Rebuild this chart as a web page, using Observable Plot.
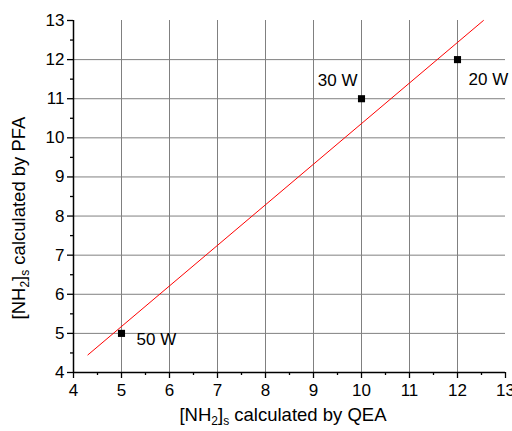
<!DOCTYPE html>
<html>
<head>
<meta charset="utf-8">
<script src="https://cdn.jsdelivr.net/npm/d3@7"></script>
<script src="https://cdn.jsdelivr.net/npm/@observablehq/plot@0.6"></script>
<style>
  html, body { margin: 0; padding: 0; background: #fff; }
  #chart svg { display: block; }
</style>
</head>
<body>
<div id="chart"></div>
<script>
// Data
const qea = [12, 10, 5];          // [NH2]s by QEA (x)
const pfa = [12, 11, 5];          // [NH2]s by PFA (y)
const powers = ["20 W", "30 W", "50 W"];
// Fitted line end points
const fitX = [4.3, 12.54];
const fitY = [4.45, 13];
const majorTicks = [4, 5, 6, 7, 8, 9, 10, 11, 12, 13];
const minorTicks = [4.5, 5.5, 6.5, 7.5, 8.5, 9.5, 10.5, 11.5, 12.5];
const gridTicks = [5, 6, 7, 8, 9, 10, 11, 12];

const points = qea.map((x, i) => ({x, y: pfa[i], label: powers[i]}));
const fit = fitX.map((x, i) => ({x, y: fitY[i]}));

const font = "Liberation Sans, Arial, sans-serif";

const plot = Plot.plot({
  width: 512,
  height: 431,
  marginLeft: 73,
  marginRight: 7,
  marginTop: 20,
  marginBottom: 59,
  style: {fontFamily: font, fontSize: "17px", color: "#000", background: "#fff"},
  x: {domain: [4, 13]},
  y: {domain: [4, 13]},
  marks: [
    Plot.gridX(gridTicks, {stroke: "#808080", strokeOpacity: 1, strokeWidth: 1}),
    Plot.gridY(gridTicks, {stroke: "#808080", strokeOpacity: 1, strokeWidth: 1}),
    Plot.axisX(majorTicks, {tickSize: 6, tickPadding: 5, tickFormat: d => String(d), label: null, fontSize: 17, strokeWidth: 1.3}),
    Plot.axisX(minorTicks, {tickSize: 3, tickFormat: null, text: null, label: null, strokeWidth: 1.3}),
    Plot.axisY(majorTicks, {tickSize: 6, tickPadding: 3, tickFormat: d => String(d), label: null, fontSize: 17, strokeWidth: 1.3}),
    Plot.axisY(minorTicks, {tickSize: 3, tickFormat: null, text: null, label: null, strokeWidth: 1.3}),
    Plot.ruleX([4], {stroke: "#000", strokeWidth: 1.5}),
    Plot.ruleY([4], {stroke: "#000", strokeWidth: 1.5}),
    Plot.line(fit, {x: "x", y: "y", stroke: "#ff0000", strokeWidth: 1}),
    Plot.dot(points, {x: "x", y: "y", symbol: "square", r: 4, fill: "#000", stroke: null}),
    Plot.text(points.filter(d => d.label === "30 W"), {x: "x", y: "y", text: "label", textAnchor: "end", dx: -4, dy: -18, fontSize: 17, fill: "#000"}),
    Plot.text(points.filter(d => d.label === "20 W"), {x: "x", y: "y", text: "label", textAnchor: "start", dx: 11, dy: 20, fontSize: 17, fill: "#000"}),
    Plot.text(points.filter(d => d.label === "50 W"), {x: "x", y: "y", text: "label", textAnchor: "start", dx: 15, dy: 6, fontSize: 17, fill: "#000"})
  ]
});

const svg = d3.select(plot);
function addTitle(g) {
  g.append("tspan").text("[NH");
  g.append("tspan").attr("baseline-shift", "-30%").attr("font-size", "12px").text("2");
  g.append("tspan").text("]");
  g.append("tspan").attr("baseline-shift", "-30%").attr("font-size", "12px").text("s");
  g.append("tspan").text(" calculated by " + g.attr("data-m"));
}
const xt = svg.append("text")
  .attr("x", 283).attr("y", 421)
  .attr("text-anchor", "middle")
  .attr("font-family", font).attr("font-size", 18.5).attr("fill", "#000")
  .attr("data-m", "QEA");
addTitle(xt);
const yt = svg.append("text")
  .attr("transform", "translate(25,218) rotate(-90)")
  .attr("text-anchor", "middle")
  .attr("font-family", font).attr("font-size", 18.5).attr("fill", "#000")
  .attr("data-m", "PFA");
addTitle(yt);

document.getElementById("chart").appendChild(plot);
</script>
</body>
</html>
